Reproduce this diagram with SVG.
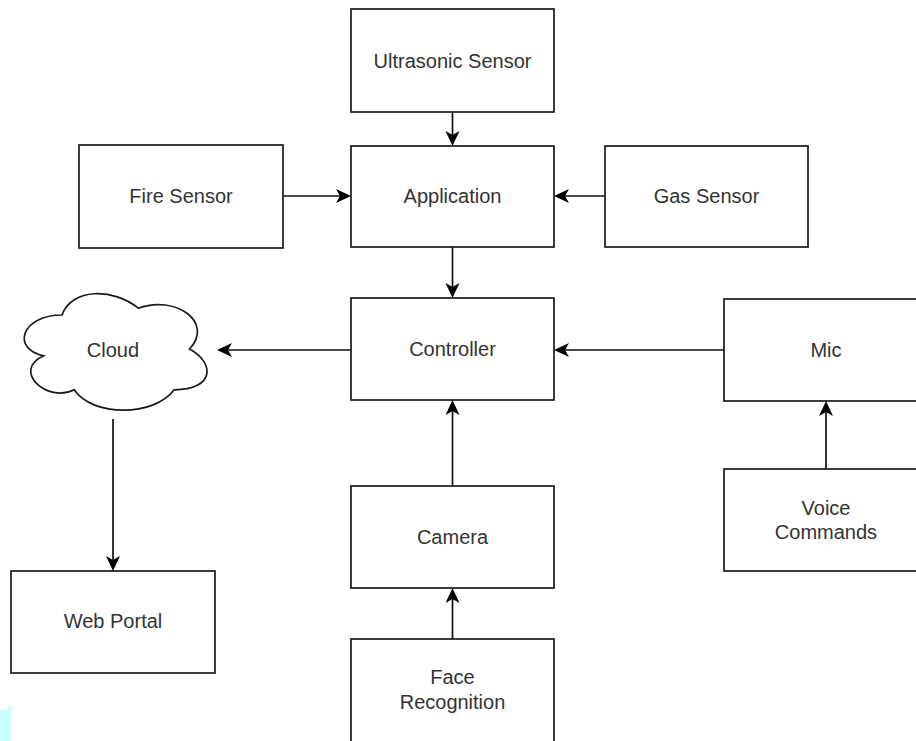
<svg xmlns="http://www.w3.org/2000/svg" width="916" height="741" viewBox="0 0 916 741">
<defs>
<style>
.box{fill:#fff;stroke:#1a1a1a;stroke-width:1.7}
.lbl{font-family:"Liberation Sans",Arial,sans-serif;font-size:20px;fill:#333;text-anchor:middle}
.edge{fill:none;stroke:#111;stroke-width:1.7}
</style>
<marker id="arr" markerUnits="userSpaceOnUse" markerWidth="16" markerHeight="16" refX="10" refY="7" orient="auto">
<path d="M0,0 L15,7 L0,14 L4,7 Z" fill="#000"/>
</marker>
</defs>
<rect width="916" height="741" fill="#fff"/>
<polygon points="0,710 8,710 8,706 11,706 11,741 0,741" fill="#ccffff"/>

<g id="ultrasonic"><rect class="box" x="351" y="9" width="203" height="103"/><text class="lbl" x="452.5" y="67.5">Ultrasonic Sensor</text></g>
<g id="application"><rect class="box" x="351" y="146" width="203" height="101"/><text class="lbl" x="452.5" y="203">Application</text></g>
<g id="fire"><rect class="box" x="79" y="145" width="204" height="103"/><text class="lbl" x="181" y="203">Fire Sensor</text></g>
<g id="gas"><rect class="box" x="605" y="146" width="203" height="101"/><text class="lbl" x="706.5" y="203">Gas Sensor</text></g>
<g id="controller"><rect class="box" x="351" y="298" width="203" height="102"/><text class="lbl" x="452.5" y="356">Controller</text></g>
<g id="mic"><rect class="box" x="724" y="299" width="204" height="102"/><text class="lbl" x="826" y="357">Mic</text></g>
<g id="voice"><rect class="box" x="724" y="469" width="204" height="102"/><text class="lbl" x="826" y="515">Voice</text><text class="lbl" x="826" y="539">Commands</text></g>
<g id="camera"><rect class="box" x="351" y="486" width="203" height="102"/><text class="lbl" x="452.5" y="544">Camera</text></g>
<g id="face"><rect class="box" x="351" y="639" width="203" height="104"/><text class="lbl" x="452.5" y="684">Face</text><text class="lbl" x="452.5" y="709">Recognition</text></g>
<g id="webportal"><rect class="box" x="11" y="571" width="204" height="102"/><text class="lbl" x="113" y="628">Web Portal</text></g>
<g id="cloud"><path class="box" d="M62,315 C21.2,315 11,349 43.6,355.8 C11,370.8 47.7,403.4 74.2,389.8 C92.6,417 153.8,417 174.2,389.8 C215,389.8 215,362.6 189.5,349 C215,321.8 174.2,294.6 138.5,308.2 C113,287.8 72.2,287.8 62,315 Z"/><text class="lbl" x="113" y="357">Cloud</text></g>

<g id="connectors">
<path class="edge" d="M452.5,112 V141" marker-end="url(#arr)"/>
<path class="edge" d="M452.5,247 V293" marker-end="url(#arr)"/>
<path class="edge" d="M283,196 H346" marker-end="url(#arr)"/>
<path class="edge" d="M605,196 H559" marker-end="url(#arr)"/>
<path class="edge" d="M724,350 H559" marker-end="url(#arr)"/>
<path class="edge" d="M826,469 V406" marker-end="url(#arr)"/>
<path class="edge" d="M452.5,486 V405" marker-end="url(#arr)"/>
<path class="edge" d="M452.5,639 V593" marker-end="url(#arr)"/>
<path class="edge" d="M351,350 H222" marker-end="url(#arr)"/>
<path class="edge" d="M113,419 V566" marker-end="url(#arr)"/>
</g>
</svg>
